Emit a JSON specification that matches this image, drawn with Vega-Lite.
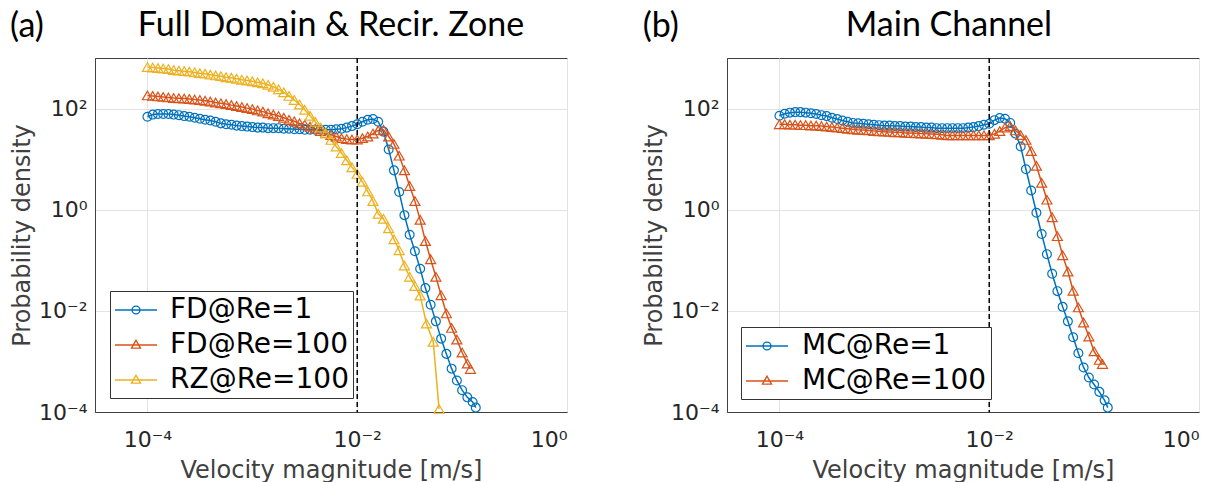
{
  "$schema": "https://vega.github.io/schema/vega-lite/v6.json",
  "background": "white",
  "padding": {"left": 9, "top": 8, "right": 5, "bottom": 0},
  "spacing": 74,
  "config": {
    "view": {"stroke": "#404040", "strokeWidth": 1},
    "font": "DejaVu Sans",
    "axis": {
      "gridColor": "#e3e3e3", "gridWidth": 1, "domainColor": "#404040", "ticks": false,
      "labelFont": "DejaVu Sans", "labelFontSize": 22, "labelColor": "#262626",
      "titleFont": "DejaVu Sans", "titleFontSize": 24, "titleColor": "#404040", "titleFontWeight": "normal"
    },
    "legend": {
      "symbolSize": 784, "symbolOffset": 7,
      "labelFont": "DejaVu Sans", "labelFontSize": 28, "labelColor": "black", "labelLimit": 0, "strokeColor": "#333333", "fillColor": "white",
      "padding": 4, "rowPadding": 6, "symbolStrokeWidth": 1.4
    }
  },
  "resolve": {"scale": {"color": "independent", "shape": "independent", "stroke": "independent"}, "legend": {"color": "independent", "shape": "independent", "stroke": "independent"}},
  "datasets": {
    "a": [
      {"s":"FD@Re=1","v":1e-4,"p":69},{"s":"FD@Re=1","v":1.122e-4,"p":76},{"s":"FD@Re=1","v":1.259e-4,"p":78},{"s":"FD@Re=1","v":1.413e-4,"p":78},{"s":"FD@Re=1","v":1.585e-4,"p":78},{"s":"FD@Re=1","v":1.778e-4,"p":76},{"s":"FD@Re=1","v":1.995e-4,"p":74},{"s":"FD@Re=1","v":2.239e-4,"p":71},{"s":"FD@Re=1","v":2.512e-4,"p":69},{"s":"FD@Re=1","v":2.818e-4,"p":66},{"s":"FD@Re=1","v":3.162e-4,"p":63},{"s":"FD@Re=1","v":3.548e-4,"p":60},{"s":"FD@Re=1","v":3.981e-4,"p":58},{"s":"FD@Re=1","v":4.467e-4,"p":55},{"s":"FD@Re=1","v":5.012e-4,"p":51},{"s":"FD@Re=1","v":5.623e-4,"p":49},{"s":"FD@Re=1","v":6.31e-4,"p":48},{"s":"FD@Re=1","v":7.079e-4,"p":46},{"s":"FD@Re=1","v":7.943e-4,"p":45},{"s":"FD@Re=1","v":8.913e-4,"p":44},
      {"s":"FD@Re=1","v":1e-3,"p":43},{"s":"FD@Re=1","v":1.122e-3,"p":42},{"s":"FD@Re=1","v":1.259e-3,"p":42},{"s":"FD@Re=1","v":1.413e-3,"p":41},{"s":"FD@Re=1","v":1.585e-3,"p":41},{"s":"FD@Re=1","v":1.778e-3,"p":41},{"s":"FD@Re=1","v":1.995e-3,"p":40},{"s":"FD@Re=1","v":2.239e-3,"p":40},{"s":"FD@Re=1","v":2.512e-3,"p":39},{"s":"FD@Re=1","v":2.818e-3,"p":39},{"s":"FD@Re=1","v":3.162e-3,"p":38},{"s":"FD@Re=1","v":3.548e-3,"p":38},{"s":"FD@Re=1","v":3.981e-3,"p":38},{"s":"FD@Re=1","v":4.467e-3,"p":38},{"s":"FD@Re=1","v":5.012e-3,"p":38},{"s":"FD@Re=1","v":5.623e-3,"p":38},{"s":"FD@Re=1","v":6.31e-3,"p":39},{"s":"FD@Re=1","v":7.079e-3,"p":40},{"s":"FD@Re=1","v":7.943e-3,"p":42},{"s":"FD@Re=1","v":8.913e-3,"p":45},
      {"s":"FD@Re=1","v":1e-2,"p":49},{"s":"FD@Re=1","v":1.122e-2,"p":55},{"s":"FD@Re=1","v":1.259e-2,"p":60},{"s":"FD@Re=1","v":1.413e-2,"p":62},{"s":"FD@Re=1","v":1.585e-2,"p":55},{"s":"FD@Re=1","v":1.778e-2,"p":35},{"s":"FD@Re=1","v":1.995e-2,"p":15.5},{"s":"FD@Re=1","v":2.239e-2,"p":6.0},{"s":"FD@Re=1","v":2.512e-2,"p":2.24},{"s":"FD@Re=1","v":2.818e-2,"p":0.78},{"s":"FD@Re=1","v":3.162e-2,"p":0.32},{"s":"FD@Re=1","v":3.548e-2,"p":0.151},{"s":"FD@Re=1","v":3.981e-2,"p":0.068},{"s":"FD@Re=1","v":4.467e-2,"p":0.0282},{"s":"FD@Re=1","v":5.012e-2,"p":0.0132},{"s":"FD@Re=1","v":5.623e-2,"p":0.0062},{"s":"FD@Re=1","v":6.31e-2,"p":0.00282},{"s":"FD@Re=1","v":7.079e-2,"p":0.00141},{"s":"FD@Re=1","v":7.943e-2,"p":0.00072},{"s":"FD@Re=1","v":8.913e-2,"p":0.00042},{"s":"FD@Re=1","v":0.1,"p":0.00027},{"s":"FD@Re=1","v":0.1122,"p":0.000195},{"s":"FD@Re=1","v":0.1259,"p":0.000158},{"s":"FD@Re=1","v":0.135,"p":0.000122},
      {"s":"FD@Re=100","v":1e-4,"p":182},{"s":"FD@Re=100","v":1.122e-4,"p":178},{"s":"FD@Re=100","v":1.259e-4,"p":174},{"s":"FD@Re=100","v":1.413e-4,"p":170},{"s":"FD@Re=100","v":1.585e-4,"p":166},{"s":"FD@Re=100","v":1.778e-4,"p":162},{"s":"FD@Re=100","v":1.995e-4,"p":160},{"s":"FD@Re=100","v":2.239e-4,"p":158},{"s":"FD@Re=100","v":2.512e-4,"p":155},{"s":"FD@Re=100","v":2.818e-4,"p":151},{"s":"FD@Re=100","v":3.162e-4,"p":148},{"s":"FD@Re=100","v":3.548e-4,"p":143},{"s":"FD@Re=100","v":3.981e-4,"p":138},{"s":"FD@Re=100","v":4.467e-4,"p":132},{"s":"FD@Re=100","v":5.012e-4,"p":127},{"s":"FD@Re=100","v":5.623e-4,"p":123},{"s":"FD@Re=100","v":6.31e-4,"p":117},{"s":"FD@Re=100","v":7.079e-4,"p":112},{"s":"FD@Re=100","v":7.943e-4,"p":107},{"s":"FD@Re=100","v":8.913e-4,"p":102},
      {"s":"FD@Re=100","v":1e-3,"p":98},{"s":"FD@Re=100","v":1.122e-3,"p":92},{"s":"FD@Re=100","v":1.259e-3,"p":87},{"s":"FD@Re=100","v":1.413e-3,"p":81},{"s":"FD@Re=100","v":1.585e-3,"p":76},{"s":"FD@Re=100","v":1.778e-3,"p":71},{"s":"FD@Re=100","v":1.995e-3,"p":66},{"s":"FD@Re=100","v":2.239e-3,"p":60},{"s":"FD@Re=100","v":2.512e-3,"p":56},{"s":"FD@Re=100","v":2.818e-3,"p":51},{"s":"FD@Re=100","v":3.162e-3,"p":48},{"s":"FD@Re=100","v":3.548e-3,"p":44},{"s":"FD@Re=100","v":3.981e-3,"p":40},{"s":"FD@Re=100","v":4.467e-3,"p":36},{"s":"FD@Re=100","v":5.012e-3,"p":33},{"s":"FD@Re=100","v":5.623e-3,"p":30},{"s":"FD@Re=100","v":6.31e-3,"p":28},{"s":"FD@Re=100","v":7.079e-3,"p":26},{"s":"FD@Re=100","v":7.943e-3,"p":25},{"s":"FD@Re=100","v":8.913e-3,"p":24.5},
      {"s":"FD@Re=100","v":1e-2,"p":24.5},{"s":"FD@Re=100","v":1.122e-2,"p":26},{"s":"FD@Re=100","v":1.259e-2,"p":28},{"s":"FD@Re=100","v":1.413e-2,"p":32},{"s":"FD@Re=100","v":1.585e-2,"p":37},{"s":"FD@Re=100","v":1.778e-2,"p":38},{"s":"FD@Re=100","v":1.995e-2,"p":28},{"s":"FD@Re=100","v":2.239e-2,"p":20},{"s":"FD@Re=100","v":2.512e-2,"p":11.7},{"s":"FD@Re=100","v":2.818e-2,"p":6.0},{"s":"FD@Re=100","v":3.162e-2,"p":2.95},{"s":"FD@Re=100","v":3.548e-2,"p":1.48},{"s":"FD@Re=100","v":3.981e-2,"p":0.63},{"s":"FD@Re=100","v":4.467e-2,"p":0.24},{"s":"FD@Re=100","v":5.012e-2,"p":0.105},{"s":"FD@Re=100","v":5.623e-2,"p":0.047},{"s":"FD@Re=100","v":6.31e-2,"p":0.0204},{"s":"FD@Re=100","v":7.079e-2,"p":0.0089},{"s":"FD@Re=100","v":7.943e-2,"p":0.0046},{"s":"FD@Re=100","v":8.913e-2,"p":0.0027},{"s":"FD@Re=100","v":0.1,"p":0.0015},{"s":"FD@Re=100","v":0.1122,"p":0.00091},{"s":"FD@Re=100","v":0.1202,"p":0.00071},
      {"s":"RZ@Re=100","v":1e-4,"p":660},{"s":"RZ@Re=100","v":1.122e-4,"p":646},{"s":"RZ@Re=100","v":1.259e-4,"p":631},{"s":"RZ@Re=100","v":1.413e-4,"p":617},{"s":"RZ@Re=100","v":1.585e-4,"p":603},{"s":"RZ@Re=100","v":1.778e-4,"p":575},{"s":"RZ@Re=100","v":1.995e-4,"p":562},{"s":"RZ@Re=100","v":2.239e-4,"p":550},{"s":"RZ@Re=100","v":2.512e-4,"p":537},{"s":"RZ@Re=100","v":2.818e-4,"p":519},{"s":"RZ@Re=100","v":3.162e-4,"p":501},{"s":"RZ@Re=100","v":3.548e-4,"p":490},{"s":"RZ@Re=100","v":3.981e-4,"p":468},{"s":"RZ@Re=100","v":4.467e-4,"p":452},{"s":"RZ@Re=100","v":5.012e-4,"p":437},{"s":"RZ@Re=100","v":5.623e-4,"p":417},{"s":"RZ@Re=100","v":6.31e-4,"p":407},{"s":"RZ@Re=100","v":7.079e-4,"p":389},{"s":"RZ@Re=100","v":7.943e-4,"p":372},{"s":"RZ@Re=100","v":8.913e-4,"p":359},
      {"s":"RZ@Re=100","v":1e-3,"p":347},{"s":"RZ@Re=100","v":1.122e-3,"p":331},{"s":"RZ@Re=100","v":1.259e-3,"p":316},{"s":"RZ@Re=100","v":1.413e-3,"p":295},{"s":"RZ@Re=100","v":1.585e-3,"p":269},{"s":"RZ@Re=100","v":1.778e-3,"p":240},{"s":"RZ@Re=100","v":1.995e-3,"p":209},{"s":"RZ@Re=100","v":2.239e-3,"p":178},{"s":"RZ@Re=100","v":2.512e-3,"p":148},{"s":"RZ@Re=100","v":2.818e-3,"p":120},{"s":"RZ@Re=100","v":3.162e-3,"p":95},{"s":"RZ@Re=100","v":3.548e-3,"p":72},{"s":"RZ@Re=100","v":3.981e-3,"p":55},{"s":"RZ@Re=100","v":4.467e-3,"p":42},{"s":"RZ@Re=100","v":5.012e-3,"p":32},{"s":"RZ@Re=100","v":5.623e-3,"p":24},{"s":"RZ@Re=100","v":6.31e-3,"p":17.8},{"s":"RZ@Re=100","v":7.079e-3,"p":13.2},{"s":"RZ@Re=100","v":7.943e-3,"p":9.5},{"s":"RZ@Re=100","v":8.913e-3,"p":6.9},
      {"s":"RZ@Re=100","v":1e-2,"p":5.1},{"s":"RZ@Re=100","v":1.122e-2,"p":3.55},{"s":"RZ@Re=100","v":1.259e-2,"p":2.3},{"s":"RZ@Re=100","v":1.413e-2,"p":1.48},{"s":"RZ@Re=100","v":1.585e-2,"p":0.83},{"s":"RZ@Re=100","v":1.778e-2,"p":0.66},{"s":"RZ@Re=100","v":1.995e-2,"p":0.43},{"s":"RZ@Re=100","v":2.239e-2,"p":0.26},{"s":"RZ@Re=100","v":2.512e-2,"p":0.158},{"s":"RZ@Re=100","v":2.818e-2,"p":0.079},{"s":"RZ@Re=100","v":3.162e-2,"p":0.047},{"s":"RZ@Re=100","v":3.548e-2,"p":0.031},{"s":"RZ@Re=100","v":3.981e-2,"p":0.02},{"s":"RZ@Re=100","v":4.571e-2,"p":0.0056},{"s":"RZ@Re=100","v":5.309e-2,"p":0.00245},{"s":"RZ@Re=100","v":6.026e-2,"p":0.000115}
    ],
    "b": [
      {"s":"MC@Re=1","v":1e-4,"p":72},{"s":"MC@Re=1","v":1.122e-4,"p":79},{"s":"MC@Re=1","v":1.259e-4,"p":83},{"s":"MC@Re=1","v":1.413e-4,"p":85},{"s":"MC@Re=1","v":1.585e-4,"p":85},{"s":"MC@Re=1","v":1.778e-4,"p":83},{"s":"MC@Re=1","v":1.995e-4,"p":81},{"s":"MC@Re=1","v":2.239e-4,"p":78},{"s":"MC@Re=1","v":2.512e-4,"p":74},{"s":"MC@Re=1","v":2.818e-4,"p":71},{"s":"MC@Re=1","v":3.162e-4,"p":66},{"s":"MC@Re=1","v":3.548e-4,"p":62},{"s":"MC@Re=1","v":3.981e-4,"p":58},{"s":"MC@Re=1","v":4.467e-4,"p":55},{"s":"MC@Re=1","v":5.012e-4,"p":52},{"s":"MC@Re=1","v":5.623e-4,"p":51},{"s":"MC@Re=1","v":6.31e-4,"p":50},{"s":"MC@Re=1","v":7.079e-4,"p":49},{"s":"MC@Re=1","v":7.943e-4,"p":48},{"s":"MC@Re=1","v":8.913e-4,"p":47},
      {"s":"MC@Re=1","v":1e-3,"p":46},{"s":"MC@Re=1","v":1.122e-3,"p":46},{"s":"MC@Re=1","v":1.259e-3,"p":45},{"s":"MC@Re=1","v":1.413e-3,"p":45},{"s":"MC@Re=1","v":1.585e-3,"p":44},{"s":"MC@Re=1","v":1.778e-3,"p":44},{"s":"MC@Re=1","v":1.995e-3,"p":43},{"s":"MC@Re=1","v":2.239e-3,"p":43},{"s":"MC@Re=1","v":2.512e-3,"p":42},{"s":"MC@Re=1","v":2.818e-3,"p":42},{"s":"MC@Re=1","v":3.162e-3,"p":41},{"s":"MC@Re=1","v":3.548e-3,"p":41},{"s":"MC@Re=1","v":3.981e-3,"p":41},{"s":"MC@Re=1","v":4.467e-3,"p":41},{"s":"MC@Re=1","v":5.012e-3,"p":41},{"s":"MC@Re=1","v":5.623e-3,"p":41},{"s":"MC@Re=1","v":6.31e-3,"p":42},{"s":"MC@Re=1","v":7.079e-3,"p":43},{"s":"MC@Re=1","v":7.943e-3,"p":45},{"s":"MC@Re=1","v":8.913e-3,"p":48},
      {"s":"MC@Re=1","v":1e-2,"p":50},{"s":"MC@Re=1","v":1.122e-2,"p":59},{"s":"MC@Re=1","v":1.259e-2,"p":65},{"s":"MC@Re=1","v":1.413e-2,"p":63},{"s":"MC@Re=1","v":1.585e-2,"p":52},{"s":"MC@Re=1","v":1.778e-2,"p":32},{"s":"MC@Re=1","v":1.995e-2,"p":17.8},{"s":"MC@Re=1","v":2.239e-2,"p":6.3},{"s":"MC@Re=1","v":2.512e-2,"p":2.4},{"s":"MC@Re=1","v":2.818e-2,"p":0.87},{"s":"MC@Re=1","v":3.162e-2,"p":0.33},{"s":"MC@Re=1","v":3.548e-2,"p":0.132},{"s":"MC@Re=1","v":3.981e-2,"p":0.054},{"s":"MC@Re=1","v":4.467e-2,"p":0.0245},{"s":"MC@Re=1","v":5.012e-2,"p":0.012},{"s":"MC@Re=1","v":5.623e-2,"p":0.0062},{"s":"MC@Re=1","v":6.31e-2,"p":0.003},{"s":"MC@Re=1","v":7.079e-2,"p":0.00145},{"s":"MC@Re=1","v":7.943e-2,"p":0.00076},{"s":"MC@Re=1","v":8.913e-2,"p":0.00048},{"s":"MC@Re=1","v":0.1,"p":0.00035},{"s":"MC@Re=1","v":0.1122,"p":0.00025},{"s":"MC@Re=1","v":0.1259,"p":0.00017},{"s":"MC@Re=1","v":0.135,"p":0.000122},
      {"s":"MC@Re=100","v":1e-4,"p":49},{"s":"MC@Re=100","v":1.122e-4,"p":49},{"s":"MC@Re=100","v":1.259e-4,"p":48},{"s":"MC@Re=100","v":1.413e-4,"p":48},{"s":"MC@Re=100","v":1.585e-4,"p":47},{"s":"MC@Re=100","v":1.778e-4,"p":47},{"s":"MC@Re=100","v":1.995e-4,"p":46},{"s":"MC@Re=100","v":2.239e-4,"p":46},{"s":"MC@Re=100","v":2.512e-4,"p":45},{"s":"MC@Re=100","v":2.818e-4,"p":44},{"s":"MC@Re=100","v":3.162e-4,"p":43},{"s":"MC@Re=100","v":3.548e-4,"p":42},{"s":"MC@Re=100","v":3.981e-4,"p":41},{"s":"MC@Re=100","v":4.467e-4,"p":40},{"s":"MC@Re=100","v":5.012e-4,"p":39},{"s":"MC@Re=100","v":5.623e-4,"p":38},{"s":"MC@Re=100","v":6.31e-4,"p":37.5},{"s":"MC@Re=100","v":7.079e-4,"p":37},{"s":"MC@Re=100","v":7.943e-4,"p":36},{"s":"MC@Re=100","v":8.913e-4,"p":35.5},
      {"s":"MC@Re=100","v":1e-3,"p":35},{"s":"MC@Re=100","v":1.122e-3,"p":34.5},{"s":"MC@Re=100","v":1.259e-3,"p":34},{"s":"MC@Re=100","v":1.413e-3,"p":33.9},{"s":"MC@Re=100","v":1.585e-3,"p":33},{"s":"MC@Re=100","v":1.778e-3,"p":32.7},{"s":"MC@Re=100","v":1.995e-3,"p":32.4},{"s":"MC@Re=100","v":2.239e-3,"p":32},{"s":"MC@Re=100","v":2.512e-3,"p":31.6},{"s":"MC@Re=100","v":2.818e-3,"p":31.3},{"s":"MC@Re=100","v":3.162e-3,"p":31},{"s":"MC@Re=100","v":3.548e-3,"p":30.2},{"s":"MC@Re=100","v":3.981e-3,"p":29.5},{"s":"MC@Re=100","v":4.467e-3,"p":29.5},{"s":"MC@Re=100","v":5.012e-3,"p":29.5},{"s":"MC@Re=100","v":5.623e-3,"p":29.5},{"s":"MC@Re=100","v":6.31e-3,"p":29.5},{"s":"MC@Re=100","v":7.079e-3,"p":29.5},{"s":"MC@Re=100","v":7.943e-3,"p":29.5},{"s":"MC@Re=100","v":8.913e-3,"p":29.5},
      {"s":"MC@Re=100","v":1e-2,"p":29.5},{"s":"MC@Re=100","v":1.122e-2,"p":31.6},{"s":"MC@Re=100","v":1.259e-2,"p":36},{"s":"MC@Re=100","v":1.413e-2,"p":42},{"s":"MC@Re=100","v":1.585e-2,"p":45},{"s":"MC@Re=100","v":1.778e-2,"p":37},{"s":"MC@Re=100","v":1.995e-2,"p":30},{"s":"MC@Re=100","v":2.239e-2,"p":24},{"s":"MC@Re=100","v":2.512e-2,"p":14.5},{"s":"MC@Re=100","v":2.818e-2,"p":7.4},{"s":"MC@Re=100","v":3.162e-2,"p":3.4},{"s":"MC@Re=100","v":3.548e-2,"p":1.58},{"s":"MC@Re=100","v":3.981e-2,"p":0.71},{"s":"MC@Re=100","v":4.467e-2,"p":0.3},{"s":"MC@Re=100","v":5.012e-2,"p":0.126},{"s":"MC@Re=100","v":5.623e-2,"p":0.06},{"s":"MC@Re=100","v":6.31e-2,"p":0.025},{"s":"MC@Re=100","v":7.079e-2,"p":0.0117},{"s":"MC@Re=100","v":7.943e-2,"p":0.0059},{"s":"MC@Re=100","v":8.913e-2,"p":0.0031},{"s":"MC@Re=100","v":0.1,"p":0.00158},{"s":"MC@Re=100","v":0.1122,"p":0.00107},{"s":"MC@Re=100","v":0.1202,"p":0.00089}
    ],
    "one": [{"k": 1}]
  },
  "hconcat": [
    {
      "width": 472, "height": 354,
      "layer": [
        {
          "data": {"name": "a"},
          "mark": {"type": "line", "strokeWidth": 1.5},
          "encoding": {
            "x": {"field": "v", "type": "quantitative", "scale": {"type": "log", "domain": [3.1623e-5, 1], "nice": false},
                  "axis": {"values": [1e-4, 1e-2, 1], "labelExpr": "datum.value < 0.001 ? '10⁻⁴' : datum.value < 0.1 ? '10⁻²' : '10⁰'", "title": "Velocity magnitude [m/s]", "labelPadding": 17, "titlePadding": 8}},
            "y": {"field": "p", "type": "quantitative", "scale": {"type": "log", "domain": [1e-4, 1000], "nice": false},
                  "axis": {"values": [1e-4, 1e-2, 1, 100], "labelExpr": "datum.value < 0.001 ? '10⁻⁴' : datum.value < 0.1 ? '10⁻²' : datum.value < 10 ? '10⁰' : '10²'", "title": "Probability density", "labelPadding": 8, "titlePadding": 4}},
            "stroke": {"field": "s", "type": "nominal", "scale": {"domain": ["RZ@Re=100", "FD@Re=100", "FD@Re=1"], "range": ["#EDB120", "#D95319", "#0072BD"]}, "legend": null}
          }
        },
        {
          "data": {"name": "a"},
          "transform": [{"filter": "datum.s == 'FD@Re=1'"}],
          "mark": {"type": "point", "shape": "circle", "filled": false, "strokeWidth": 1.2, "size": 78, "opacity": 1},
          "encoding": {
            "x": {"field": "v", "type": "quantitative"},
            "y": {"field": "p", "type": "quantitative"},
            "stroke": {"field": "s", "type": "nominal", "legend": null}
          }
        },
        {
          "data": {"name": "a"},
          "transform": [{"filter": "datum.s != 'FD@Re=1'"}],
          "mark": {"type": "point", "shape": "triangle-up", "filled": false, "strokeWidth": 1.2, "size": 100, "opacity": 1},
          "encoding": {
            "x": {"field": "v", "type": "quantitative"},
            "y": {"field": "p", "type": "quantitative"},
            "stroke": {"field": "s", "type": "nominal", "legend": null}
          }
        },
        {
          "data": {"name": "a"},
          "transform": [{"filter": "false"}],
          "mark": {"type": "point", "filled": false, "opacity": 1},
          "encoding": {
            "x": {"field": "v", "type": "quantitative"},
            "y": {"field": "p", "type": "quantitative"},
            "color": {"field": "s", "type": "nominal", "scale": {"domain": ["FD@Re=1", "FD@Re=100", "RZ@Re=100"], "range": ["#0072BD", "#D95319", "#EDB120"]},
              "legend": {"title": null, "orient": "none", "legendX": 15, "legendY": 233, "labelOffset": 19}},
            "shape": {"field": "s", "type": "nominal", "scale": {"domain": ["FD@Re=1", "FD@Re=100", "RZ@Re=100"], "range": ["M-1.5,0L1.5,0M-0.28,0A0.28,0.28,0,1,0,0.28,0A0.28,0.28,0,1,0,-0.28,0Z", "M-1.5,0L1.5,0M0,-0.34L0.32,0.22L-0.32,0.22Z", "M-1.5,0L1.5,0M0,-0.34L0.32,0.22L-0.32,0.22Z"]},
              "legend": {"title": null, "orient": "none", "legendX": 15, "legendY": 233, "labelOffset": 19}}
          }
        },
        {
          "data": {"name": "one"},
          "mark": {"type": "rule", "color": "black", "strokeDash": [5, 3], "strokeWidth": 1.5},
          "encoding": {"x": {"datum": 0.01}}
        },
        {
          "data": {"name": "one"},
          "mark": {"type": "text", "font": "Lato", "fontSize": 34, "align": "center", "baseline": "middle", "color": "black", "text": "(a)"},
          "encoding": {"x": {"datum": 7.11e-6}, "y": {"datum": 4100}}
        },
        {
          "data": {"name": "one"},
          "mark": {"type": "text", "font": "Lato", "fontSize": 34, "align": "center", "baseline": "alphabetic", "color": "black", "text": "Full Domain & Recir. Zone"},
          "encoding": {"x": {"datum": 5.62e-3}, "y": {"datum": 2723}}
        }
      ]
    },
    {
      "width": 472, "height": 354,
      "layer": [
        {
          "data": {"name": "b"},
          "mark": {"type": "line", "strokeWidth": 1.5},
          "encoding": {
            "x": {"field": "v", "type": "quantitative", "scale": {"type": "log", "domain": [3.1623e-5, 1], "nice": false},
                  "axis": {"values": [1e-4, 1e-2, 1], "labelExpr": "datum.value < 0.001 ? '10⁻⁴' : datum.value < 0.1 ? '10⁻²' : '10⁰'", "title": "Velocity magnitude [m/s]", "labelPadding": 17, "titlePadding": 8}},
            "y": {"field": "p", "type": "quantitative", "scale": {"type": "log", "domain": [1e-4, 1000], "nice": false},
                  "axis": {"values": [1e-4, 1e-2, 1, 100], "labelExpr": "datum.value < 0.001 ? '10⁻⁴' : datum.value < 0.1 ? '10⁻²' : datum.value < 10 ? '10⁰' : '10²'", "title": "Probability density", "labelPadding": 8, "titlePadding": 4}},
            "stroke": {"field": "s", "type": "nominal", "scale": {"domain": ["MC@Re=100", "MC@Re=1"], "range": ["#D95319", "#0072BD"]}, "legend": null}
          }
        },
        {
          "data": {"name": "b"},
          "transform": [{"filter": "datum.s == 'MC@Re=1'"}],
          "mark": {"type": "point", "shape": "circle", "filled": false, "strokeWidth": 1.2, "size": 78, "opacity": 1},
          "encoding": {
            "x": {"field": "v", "type": "quantitative"},
            "y": {"field": "p", "type": "quantitative"},
            "stroke": {"field": "s", "type": "nominal", "legend": null}
          }
        },
        {
          "data": {"name": "b"},
          "transform": [{"filter": "datum.s != 'MC@Re=1'"}],
          "mark": {"type": "point", "shape": "triangle-up", "filled": false, "strokeWidth": 1.2, "size": 100, "opacity": 1},
          "encoding": {
            "x": {"field": "v", "type": "quantitative"},
            "y": {"field": "p", "type": "quantitative"},
            "stroke": {"field": "s", "type": "nominal", "legend": null}
          }
        },
        {
          "data": {"name": "b"},
          "transform": [{"filter": "false"}],
          "mark": {"type": "point", "filled": false, "opacity": 1},
          "encoding": {
            "x": {"field": "v", "type": "quantitative"},
            "y": {"field": "p", "type": "quantitative"},
            "color": {"field": "s", "type": "nominal", "scale": {"domain": ["MC@Re=1", "MC@Re=100"], "range": ["#0072BD", "#D95319"]},
              "legend": {"title": null, "orient": "none", "legendX": 14, "legendY": 269, "labelOffset": 20}},
            "shape": {"field": "s", "type": "nominal", "scale": {"domain": ["MC@Re=1", "MC@Re=100"], "range": ["M-1.5,0L1.5,0M-0.28,0A0.28,0.28,0,1,0,0.28,0A0.28,0.28,0,1,0,-0.28,0Z", "M-1.5,0L1.5,0M0,-0.34L0.32,0.22L-0.32,0.22Z"]},
              "legend": {"title": null, "orient": "none", "legendX": 14, "legendY": 269, "labelOffset": 20}}
          }
        },
        {
          "data": {"name": "one"},
          "mark": {"type": "rule", "color": "black", "strokeDash": [5, 3], "strokeWidth": 1.5},
          "encoding": {"x": {"datum": 0.01}}
        },
        {
          "data": {"name": "one"},
          "mark": {"type": "text", "font": "Lato", "fontSize": 34, "align": "center", "baseline": "middle", "color": "black", "text": "(b)"},
          "encoding": {"x": {"datum": 7.4e-6}, "y": {"datum": 4100}}
        },
        {
          "data": {"name": "one"},
          "mark": {"type": "text", "font": "Lato", "fontSize": 34, "align": "center", "baseline": "alphabetic", "color": "black", "text": "Main Channel"},
          "encoding": {"x": {"datum": 4.13e-3}, "y": {"datum": 2723}}
        }
      ]
    }
  ]
}
